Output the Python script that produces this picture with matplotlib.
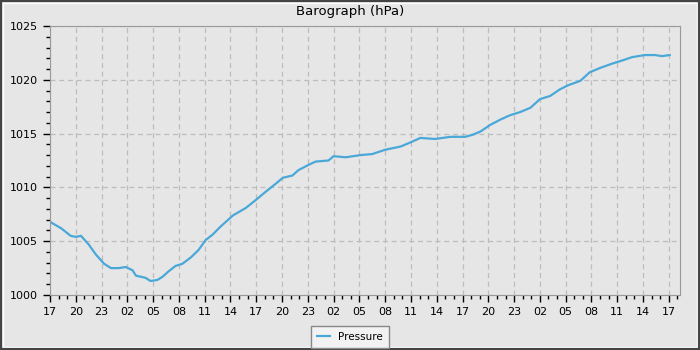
import numpy as np
import matplotlib
matplotlib.use("Agg")
import matplotlib.pyplot as plt
from matplotlib.patches import Rectangle
from matplotlib.ticker import MultipleLocator

# hours since start (17:00 day 1) and pressure readings in hPa
hours = [0, 1.3, 2.4, 3.0, 3.6, 4.5, 5.3, 6.3, 7.1, 8.0, 8.8, 9.6, 10.0, 11.1, 11.7,
         12.5, 13.1, 13.8, 14.6, 15.4, 16.4, 17.3, 18.1, 18.9, 19.9, 21.3, 22.8,
         23.9, 25.1, 26.2, 27.1, 28.2, 28.9, 30.1, 30.9, 32.4, 33.0, 34.4, 36.1,
         37.5, 39.0, 40.8, 41.7, 43.1, 44.8, 46.6, 48.3, 49.2, 50.1, 51.2, 52.4,
         53.5, 54.7, 55.9, 57.0, 58.2, 59.3, 60.3, 61.7, 62.8, 64.0, 65.4, 66.6,
         67.7, 69.2, 70.4, 71.2, 72.1]
pressure = [1006.8, 1006.2, 1005.5, 1005.4, 1005.5, 1004.7, 1003.8, 1002.9, 1002.5,
            1002.5, 1002.6, 1002.3, 1001.8, 1001.6, 1001.3, 1001.4, 1001.7, 1002.2,
            1002.7, 1002.9, 1003.5, 1004.2, 1005.1, 1005.6, 1006.4, 1007.4, 1008.1,
            1008.8, 1009.6, 1010.3, 1010.9, 1011.1, 1011.6, 1012.1, 1012.4, 1012.5,
            1012.9, 1012.8, 1013.0, 1013.1, 1013.5, 1013.8, 1014.1, 1014.6, 1014.5,
            1014.7, 1014.7, 1014.9, 1015.2, 1015.8, 1016.3, 1016.7, 1017.0, 1017.4,
            1018.2, 1018.5, 1019.1, 1019.5, 1019.9, 1020.7, 1021.1, 1021.5, 1021.8,
            1022.1, 1022.3, 1022.3, 1022.2, 1022.3]

tick_hours = list(range(0, 73, 3))
tick_labels = ["17", "20", "23", "02", "05", "08", "11", "14"] * 3 + ["17"]

bg = "#e6e6e6"
fig = plt.figure(figsize=(7, 3.5), dpi=100, facecolor=bg)
ax = fig.add_axes([50/700, 1-295/350, 630/700, 269/350], facecolor=bg)

ax.plot(hours, pressure, color="#4aa8d8", lw=1.6, label="Pressure")

ax.set_xlim(0, 73.3)
ax.set_ylim(1000, 1025)
ax.set_xticks(tick_hours)
ax.set_xticklabels(tick_labels)
ax.xaxis.set_minor_locator(MultipleLocator(1))
ax.yaxis.set_major_locator(MultipleLocator(5))
ax.yaxis.set_minor_locator(MultipleLocator(1))
ax.tick_params(which="major", length=5, width=1, labelsize=8, color="black")
ax.tick_params(which="minor", length=3, width=1, color="black")
ax.grid(True, which="major", ls=(0, (4, 3)), color="#bdbdbd", lw=0.9)
for s in ax.spines.values():
    s.set_color("#999999")

fig.text(0.5, 1-12/350, "Barograph (hPa)", ha="center", va="center", fontsize=9.5)
fig.legend(loc="center", bbox_to_anchor=(0.5, 1-337/350), fontsize=7.5,
           fancybox=False, framealpha=1, facecolor="#f2f2f2", edgecolor="#888888",
           handlelength=1.2, borderpad=0.55)

fig.add_artist(Rectangle((0.004, 0.008), 0.992, 0.984, transform=fig.transFigure,
                         fill=False, edgecolor="white", lw=1))
fig.add_artist(Rectangle((0, 0), 1, 1, transform=fig.transFigure, fill=False,
                         edgecolor="#444444", lw=3))
fig.savefig("out.png", dpi=100, facecolor=bg)
